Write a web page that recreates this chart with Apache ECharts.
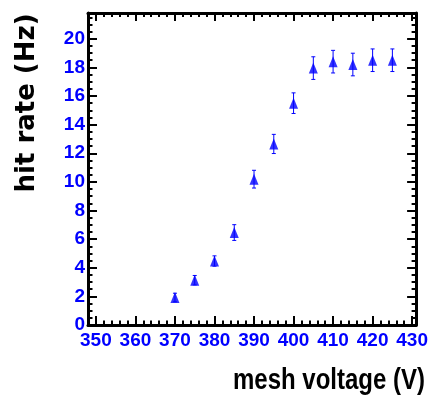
<!DOCTYPE html>
<html>
<head>
<meta charset="utf-8">
<script src="https://cdn.jsdelivr.net/npm/echarts@6/dist/echarts.min.js"></script>
<style>
html,body{margin:0;padding:0;background:#fff;}
#chart{width:431px;height:403px;}
</style>
</head>
<body>
<div id="chart"></div>
<script>
// ---- data ----
const voltage = [370, 375, 380, 385, 390, 395, 400, 405, 410, 415, 420, 425];
const hitRate = [1.92, 3.13, 4.47, 6.46, 10.19, 12.65, 15.5, 17.95, 18.4, 18.2, 18.5, 18.5];
const hitRateErr = [0.3, 0.33, 0.36, 0.55, 0.62, 0.67, 0.72, 0.79, 0.79, 0.79, 0.79, 0.79];
const xMajorTicks = [350, 360, 370, 380, 390, 400, 410, 420, 430];
const yMajorTicks = [0, 2, 4, 6, 8, 10, 12, 14, 16, 18, 20];
const xTitle = 'mesh voltage (V)';
const yTitle = 'hit rate (Hz)';

const X_MIN = 348, X_MAX = 431, Y_MIN = 0, Y_MAX = 21.8;

const xMinorTicks = [];
for (let v = 348; v <= 431; v += 2) if (v % 10 !== 0) xMinorTicks.push(v);
const yMinorTicks = [];
for (let v = 0; v <= 21.8; v += 0.5) if (v % 2 !== 0) yMinorTicks.push(v);

const BLUE = '#0000ff';
const LABEL_FONT = '"Liberation Sans", Arial, sans-serif';

function xAx(pos, ticks, len, lbl, line) {
  return {
    type: 'value', position: pos, min: X_MIN, max: X_MAX,
    axisLine: { show: line, onZero: false, lineStyle: { color: '#000', width: 3 } },
    axisTick: { show: true, inside: true, length: len, customValues: ticks, lineStyle: { color: '#000', width: 2 } },
    axisLabel: lbl ? { show: true, customValues: ticks, color: BLUE, fontWeight: 'bold', fontSize: 19, fontFamily: LABEL_FONT, margin: 6 } : { show: false },
    splitLine: { show: false }
  };
}
function yAx(pos, ticks, len, lbl, line) {
  return {
    type: 'value', position: pos, min: Y_MIN, max: Y_MAX,
    axisLine: { show: line, onZero: false, lineStyle: { color: '#000', width: 3 } },
    axisTick: { show: true, inside: true, length: len, customValues: ticks, lineStyle: { color: '#000', width: 2 } },
    axisLabel: lbl ? { show: true, customValues: ticks, color: BLUE, fontWeight: 'bold', fontSize: 19, fontFamily: LABEL_FONT, margin: 3 } : { show: false },
    splitLine: { show: false }
  };
}

const chart = echarts.init(document.getElementById('chart'), null, { renderer: 'canvas' });
chart.setOption({
  animation: false,
  backgroundColor: '#fff',
  grid: { left: 88, right: 11, top: 13, bottom: 78, containLabel: false },
  xAxis: [
    xAx('bottom', xMajorTicks, 9, true, true),
    xAx('bottom', xMinorTicks, 4.5, false, false),
    xAx('top', xMajorTicks, 8, false, true),
    xAx('top', xMinorTicks, 4, false, false)
  ],
  yAxis: [
    yAx('left', yMajorTicks, 9, true, true),
    yAx('left', yMinorTicks, 4.5, false, false),
    yAx('right', yMajorTicks, 9, false, true),
    yAx('right', yMinorTicks, 4.5, false, false)
  ],
  graphic: [
    { type: 'text', x: 425, y: 381, scaleY: 1.22,
      style: { text: xTitle, fill: '#000', font: 'bold 24px ' + LABEL_FONT, align: 'right', verticalAlign: 'middle' } },
    { type: 'text', x: 27, y: 103, rotation: Math.PI / 2,
      style: { text: yTitle, fill: '#000', font: 'bold 26px "DejaVu Sans", sans-serif', align: 'center', verticalAlign: 'middle' } }
  ],
  series: [
    {
      type: 'custom', xAxisIndex: 0, yAxisIndex: 0,
      data: voltage.map((v, i) => [v, hitRate[i], hitRateErr[i]]),
      renderItem: function (params, api) {
        const x = api.value(0), y = api.value(1), e = api.value(2);
        const t = api.coord([x, y + e]);
        const b = api.coord([x, y - e]);
        const st = { stroke: BLUE, lineWidth: 1 };
        return { type: 'group', children: [
          { type: 'line', shape: { x1: t[0], y1: t[1], x2: b[0], y2: b[1] }, style: st },
          { type: 'line', shape: { x1: t[0] - 2, y1: t[1], x2: t[0] + 2, y2: t[1] }, style: st },
          { type: 'line', shape: { x1: b[0] - 2, y1: b[1], x2: b[0] + 2, y2: b[1] }, style: st }
        ]};
      },
      z: 2
    },
    {
      type: 'scatter', xAxisIndex: 0, yAxisIndex: 0,
      data: voltage.map((v, i) => [v, hitRate[i]]),
      symbol: 'triangle', symbolSize: [9, 11],
      itemStyle: { color: BLUE },
      z: 3
    }
  ]
});
</script>
</body>
</html>
